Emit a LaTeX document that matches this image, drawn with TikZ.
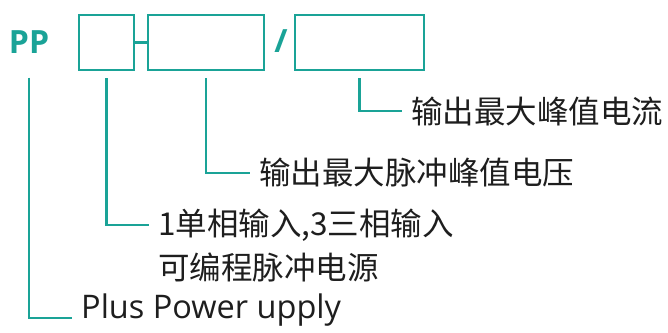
\documentclass[tikz,border=0pt]{standalone}
\usepackage{fontspec}
\setmainfont{Open Sans}
\newfontfamily\cjk{Noto Sans CJK SC}
\definecolor{ppteal}{HTML}{1AA397}
\definecolor{txtgray}{HTML}{1E1E1E}
\begin{document}
\begin{tikzpicture}[x=1pt,y=-1pt,
	field/.style={draw=ppteal,line width=2.8pt,minimum height=55pt,inner sep=0pt},
	lead/.style={draw=ppteal,line width=2.6pt},
	ppsign/.style={text=ppteal,inner sep=0pt,font=\bfseries\fontsize{32}{36}\selectfont},
	desc/.style={anchor=west,inner xsep=9pt,inner ysep=0pt,text=txtgray,font=\cjk\fontsize{31.5}{36}\selectfont}]
	\useasboundingbox (0,0) rectangle (668,332);
	% model code
	\node[ppsign] (pp) at (29,42) {PP};
	\node[field,minimum width=55pt] (b1) at (106.5,42.5) {};
	\node[field,minimum width=116pt] (b2) at (206,42.5) {};
	\node[ppsign] (sl) at (281,41) {/};
	\node[field,minimum width=129pt] (b3) at (359.5,42.5) {};
	\draw[lead] (b1.east)--(b2.west);
	% explanations
	\node[desc] (l4) at (402,111) {输出最大峰值电流};
	\node[desc] (l3) at (250,173) {输出最大脉冲峰值电压};
	\node[desc] (l2a) at (149,225) {1单相输入,3三相输入};
	\node[desc] (l2b) at (149,267) {可编程脉冲电源};
	\node[desc,anchor=base west,font=\fontsize{32.5}{36}\selectfont] (l1) at (72,318) {Plus Power upply};
	\draw[lead] ([yshift=-7pt]b3.south) |- (l4.west);
	\draw[lead] ([yshift=-7pt]b2.south) |- (l3.west);
	\draw[lead] ([yshift=-7pt]b1.south) |- (l2a.west);
	\draw[lead] ([yshift=-24pt]pp.south) |- (l1.base west);
\end{tikzpicture}
\end{document}
